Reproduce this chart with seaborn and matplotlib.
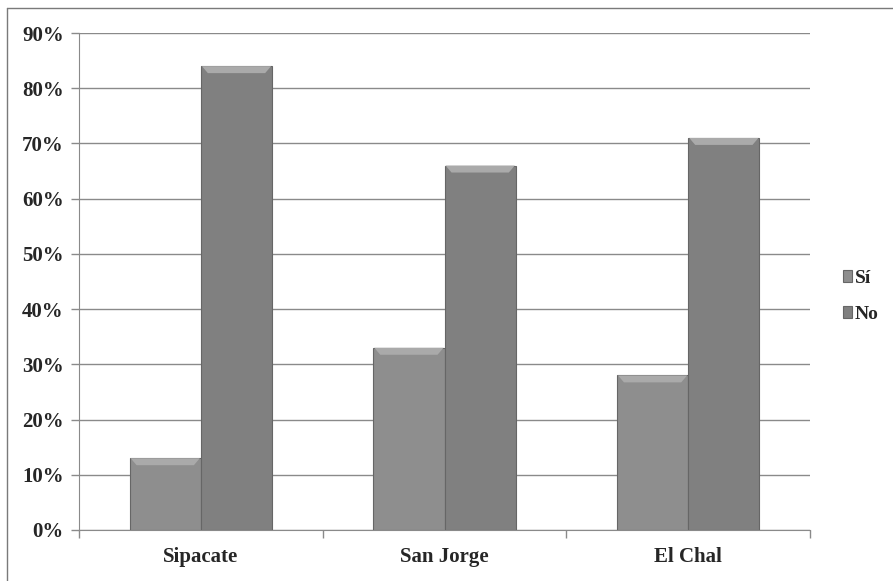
import numpy as np
import pandas as pd
import matplotlib
matplotlib.use("Agg")
import matplotlib.pyplot as plt
import seaborn as sns
from matplotlib.ticker import PercentFormatter, FixedLocator
from matplotlib.patches import Polygon
from matplotlib.transforms import IdentityTransform

sites = ["Sipacate", "San Jorge", "El Chal"]
answers = ["Sí", "No"]
si_pct = [13, 33, 28]
no_pct = [84, 66, 71]

df = pd.DataFrame({
    "sitio": sites * 2,
    "respuesta": ["Sí"] * 3 + ["No"] * 3,
    "pct": si_pct + no_pct,
})

sns.set_style("white")
plt.rcParams["font.family"] = ["Liberation Serif", "DejaVu Serif"]

fig = plt.figure(figsize=(8.93, 5.81), dpi=100)
ax = fig.add_axes([0.0885, 0.0878, 0.8186, 0.8554])

sns.barplot(data=df, x="sitio", y="pct", hue="respuesta", hue_order=answers,
            palette=["#8e8e8e", "#808080"], width=0.585, saturation=1,
            edgecolor="#666666", linewidth=0.8, ax=ax, zorder=3)

ax.set_ylim(0, 90)
ax.set_xlim(-0.5, 2.5)
ax.set_yticks(np.arange(0, 91, 10))
ax.yaxis.set_major_formatter(PercentFormatter(decimals=0))
ax.yaxis.grid(True, color="#8a8a8a", linewidth=1.0, zorder=0)
ax.set_axisbelow(True)
ax.set_xlabel("")
ax.set_ylabel("")
for side in ["top", "right"]:
    ax.spines[side].set_visible(False)
for side in ["left", "bottom"]:
    ax.spines[side].set_color("#8a8a8a")
ax.xaxis.set_minor_locator(FixedLocator([-0.5, 0.5, 1.5, 2.5]))
ax.tick_params(axis="y", which="major", labelsize=15, length=6, width=1,
               color="#8a8a8a", direction="out", pad=5, left=True)
ax.tick_params(axis="x", which="major", labelsize=15, length=0, pad=12)
ax.tick_params(axis="x", which="minor", length=6, width=1, color="#8a8a8a",
               direction="out", bottom=True)
for lab in ax.get_xticklabels() + ax.get_yticklabels():
    lab.set_fontweight("bold")

leg = ax.legend(loc="center left", bbox_to_anchor=(1.035, 0.47), frameon=False,
                prop={"weight": "bold", "size": 14}, handlelength=0.45,
                handleheight=0.55, handletextpad=0.15, labelspacing=1.0,
                borderaxespad=0)

# bevel highlight on top of every bar, taken from the drawn bars
fig.canvas.draw()
for bar in ax.patches:
    bb = bar.get_window_extent()
    if bb.height <= 0:
        continue
    d = 7
    pts = [(bb.x0 + 1, bb.y1), (bb.x1 - 1, bb.y1), (bb.x1 - d, bb.y1 - d), (bb.x0 + d, bb.y1 - d)]
    ax.add_patch(Polygon(pts, closed=True, transform=IdentityTransform(),
                         facecolor="#aaaaaa", edgecolor="none", zorder=4))

# frame of the original picture (top and left edges only)
fig.add_artist(plt.Line2D([0.0078, 1.0], [0.986, 0.986], transform=fig.transFigure,
                          color="#7a7a7a", linewidth=1))
fig.add_artist(plt.Line2D([0.0078, 0.0078], [0.0, 0.986], transform=fig.transFigure,
                          color="#7a7a7a", linewidth=1))

fig.savefig("out.png", dpi=100)
